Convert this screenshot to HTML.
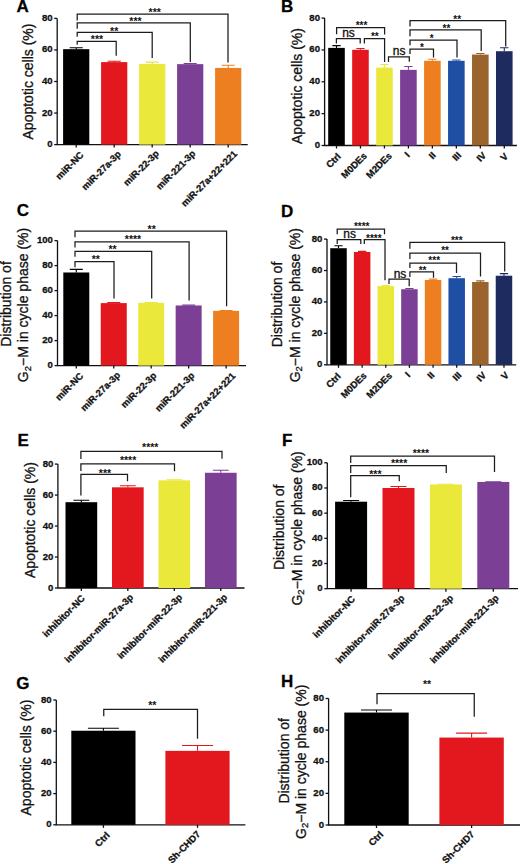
<!DOCTYPE html>
<html><head><meta charset="utf-8"><title>Figure</title>
<style>
html,body{margin:0;padding:0;background:#fff;}
body{width:520px;height:864px;overflow:hidden;}
svg{display:block;}
text{font-family:"Liberation Sans",sans-serif;fill:#111;stroke:#111;stroke-width:0.3px;}
.pl{font-size:17px;font-weight:bold;fill:#000;}
.tk{font-size:9.6px;font-weight:bold;}
.xl{font-size:9.5px;font-weight:bold;}
.yt{font-size:14px;}
.st{font-weight:bold;stroke:none;}
.ns{font-size:12px;}
.ax{stroke:#111;stroke-width:1.3;fill:none;}
.br{stroke:#1c1c1c;stroke-width:1.25;fill:none;}
</style></head>
<body><svg width="520" height="864" viewBox="0 0 520 864">
<rect width="520" height="864" fill="#fff"/>
<text x="16.4" y="12.1" class="pl">A</text>
<path d="M57.2 18.4V144.6H247.7" class="ax"/>
<path d="M54.2 144.6H57.2" class="ax"/>
<text x="52.6" y="147.1" class="tk" text-anchor="end">0</text>
<path d="M54.2 113.05H57.2" class="ax"/>
<text x="52.6" y="115.55" class="tk" text-anchor="end">20</text>
<path d="M54.2 81.5H57.2" class="ax"/>
<text x="52.6" y="84" class="tk" text-anchor="end">40</text>
<path d="M54.2 49.95H57.2" class="ax"/>
<text x="52.6" y="52.45" class="tk" text-anchor="end">60</text>
<path d="M54.2 18.4H57.2" class="ax"/>
<text x="52.6" y="20.9" class="tk" text-anchor="end">80</text>
<text transform="translate(33.2 81.5) rotate(-90)" class="yt" style="font-size:14px" text-anchor="middle">Apoptotic cells (%)</text>
<rect x="63.1" y="49.16" width="26.2" height="95.44" fill="#000000"/>
<path d="M76.2 49.16V47.74M69.65 47.74H82.75" stroke="#000000" stroke-width="1.1" fill="none"/>
<path d="M76.2 144.6V147.6" class="ax"/>
<text transform="translate(84.2 155.6) rotate(-45)" class="xl" text-anchor="end">miR-NC</text>
<rect x="101.1" y="62.1" width="26.2" height="82.5" fill="#e3181e"/>
<path d="M114.2 62.1V61.31M107.65 61.31H120.75" stroke="#e3181e" stroke-width="1.1" fill="none"/>
<path d="M114.2 144.6V147.6" class="ax"/>
<text transform="translate(121.7 154.6) rotate(-45)" class="xl" text-anchor="end">miR-27a-3p</text>
<rect x="139.1" y="63.99" width="26.2" height="80.61" fill="#ebe83c"/>
<path d="M152.2 63.99V62.1M145.65 62.1H158.75" stroke="#ebe83c" stroke-width="1.1" fill="none"/>
<path d="M152.2 144.6V147.6" class="ax"/>
<text transform="translate(159.7 154.1) rotate(-45)" class="xl" text-anchor="end">miR-22-3p</text>
<rect x="177.1" y="64.15" width="26.2" height="80.45" fill="#7b3f95"/>
<path d="M190.2 64.15V63.52M183.65 63.52H196.75" stroke="#7b3f95" stroke-width="1.1" fill="none"/>
<path d="M190.2 144.6V147.6" class="ax"/>
<text transform="translate(196.2 154.1) rotate(-45)" class="xl" text-anchor="end">miR-221-3p</text>
<rect x="215.1" y="67.93" width="26.2" height="76.67" fill="#ee7f20"/>
<path d="M228.2 67.93V65.25M221.65 65.25H234.75" stroke="#ee7f20" stroke-width="1.1" fill="none"/>
<path d="M228.2 144.6V147.6" class="ax"/>
<text transform="translate(237.7 154.6) rotate(-45)" class="xl" text-anchor="end">miR-27a+22+221</text>
<path d="M77.2 20.4V14.1H228V62.5" class="br"/>
<text x="154.7" y="16.05" class="st" style="font-size:10.5px" text-anchor="middle">***</text>
<path d="M77.2 28.7V22.8H190.3V62" class="br"/>
<text x="135.5" y="24.6" class="st" style="font-size:10.5px" text-anchor="middle">***</text>
<path d="M77.2 36.7V32.3H152.2V58" class="br"/>
<text x="114.2" y="34.55" class="st" style="font-size:10.5px" text-anchor="middle">**</text>
<path d="M77.2 44.7V41.3H116.2V55.8" class="br"/>
<text x="97" y="43.15" class="st" style="font-size:10.5px" text-anchor="middle">***</text>
<text x="281" y="12.3" class="pl">B</text>
<path d="M324.6 18.1V145.5H516.9" class="ax"/>
<path d="M321.6 145.5H324.6" class="ax"/>
<text x="320" y="148" class="tk" text-anchor="end">0</text>
<path d="M321.6 113.65H324.6" class="ax"/>
<text x="320" y="116.15" class="tk" text-anchor="end">20</text>
<path d="M321.6 81.8H324.6" class="ax"/>
<text x="320" y="84.3" class="tk" text-anchor="end">40</text>
<path d="M321.6 49.95H324.6" class="ax"/>
<text x="320" y="52.45" class="tk" text-anchor="end">60</text>
<path d="M321.6 18.1H324.6" class="ax"/>
<text x="320" y="20.6" class="tk" text-anchor="end">80</text>
<text transform="translate(301.6 86) rotate(-90)" class="yt" style="font-size:14px" text-anchor="middle">Apoptotic cells (%)</text>
<rect x="328.2" y="47.88" width="16.6" height="97.62" fill="#000000"/>
<path d="M336.5 47.88V45.65M332.35 45.65H340.65" stroke="#000000" stroke-width="1.1" fill="none"/>
<path d="M336.5 145.5V148.5" class="ax"/>
<text transform="translate(341.5 157) rotate(-45)" class="xl" text-anchor="end">Ctrl</text>
<rect x="352.17" y="49.79" width="16.6" height="95.71" fill="#e3181e"/>
<path d="M360.47 49.79V48.52M356.32 48.52H364.62" stroke="#e3181e" stroke-width="1.1" fill="none"/>
<path d="M360.47 145.5V148.5" class="ax"/>
<text transform="translate(367.47 156.5) rotate(-45)" class="xl" text-anchor="end">M0DEs</text>
<rect x="376.14" y="67.63" width="16.6" height="77.87" fill="#ebe83c"/>
<path d="M384.44 67.63V64.44M380.29 64.44H388.59" stroke="#ebe83c" stroke-width="1.1" fill="none"/>
<path d="M384.44 145.5V148.5" class="ax"/>
<text transform="translate(392.44 156.5) rotate(-45)" class="xl" text-anchor="end">M2DEs</text>
<rect x="400.11" y="69.86" width="16.6" height="75.64" fill="#7b3f95"/>
<path d="M408.41 69.86V66.51M404.26 66.51H412.56" stroke="#7b3f95" stroke-width="1.1" fill="none"/>
<path d="M408.41 145.5V148.5" class="ax"/>
<text transform="translate(410.41 156) rotate(-45)" class="xl" text-anchor="end">I</text>
<rect x="424.08" y="60.78" width="16.6" height="84.72" fill="#ee7f20"/>
<path d="M432.38 60.78V59.19M428.23 59.19H436.53" stroke="#ee7f20" stroke-width="1.1" fill="none"/>
<path d="M432.38 145.5V148.5" class="ax"/>
<text transform="translate(436.38 156) rotate(-45)" class="xl" text-anchor="end">II</text>
<rect x="448.05" y="60.78" width="16.6" height="84.72" fill="#1f4fa3"/>
<path d="M456.35 60.78V59.98M452.2 59.98H460.5" stroke="#1f4fa3" stroke-width="1.1" fill="none"/>
<path d="M456.35 145.5V148.5" class="ax"/>
<text transform="translate(461.85 156) rotate(-45)" class="xl" text-anchor="end">III</text>
<rect x="472.02" y="54.57" width="16.6" height="90.93" fill="#9a642c"/>
<path d="M480.32 54.57V53.45M476.17 53.45H484.47" stroke="#9a642c" stroke-width="1.1" fill="none"/>
<path d="M480.32 145.5V148.5" class="ax"/>
<text transform="translate(486.82 156) rotate(-45)" class="xl" text-anchor="end">IV</text>
<rect x="495.99" y="51.22" width="16.6" height="94.28" fill="#1d2b5e"/>
<path d="M504.29 51.22V47.72M500.14 47.72H508.44" stroke="#1d2b5e" stroke-width="1.1" fill="none"/>
<path d="M504.29 145.5V148.5" class="ax"/>
<text transform="translate(508.79 157) rotate(-45)" class="xl" text-anchor="end">V</text>
<path d="M336.6 34.2V27.7H384.6V34.6" class="br"/>
<text x="361.5" y="29.05" class="st" style="font-size:10px" text-anchor="middle">***</text>
<path d="M336.4 43.5V38.7H360.2V43.5" class="br"/>
<text x="348.5" y="37.1" class="ns" text-anchor="middle">ns</text>
<path d="M364.4 43.5V38.7H384.6V62" class="br"/>
<text x="374.8" y="40.35" class="st" style="font-size:10px" text-anchor="middle">**</text>
<path d="M388.5 62V56.8H409.3V61.7" class="br"/>
<text x="399.2" y="55.2" class="ns" text-anchor="middle">ns</text>
<path d="M410 26.4V20.6H505.7V46.5" class="br"/>
<text x="457.2" y="23.1" class="st" style="font-size:10px" text-anchor="middle">**</text>
<path d="M410 36.3V29.9H481.2V51" class="br"/>
<text x="446.5" y="32.3" class="st" style="font-size:10px" text-anchor="middle">**</text>
<path d="M410 45.3V40.2H457V57.6" class="br"/>
<text x="431.8" y="42.15" class="st" style="font-size:10px" text-anchor="middle">*</text>
<path d="M410 53.9V49H433.5V57.6" class="br"/>
<text x="421.9" y="51.4" class="st" style="font-size:10px" text-anchor="middle">*</text>
<text x="16.8" y="216.2" class="pl">C</text>
<path d="M57.5 240.6V365.6H246" class="ax"/>
<path d="M54.5 365.6H57.5" class="ax"/>
<text x="52.9" y="368.1" class="tk" text-anchor="end">0</text>
<path d="M54.5 340.6H57.5" class="ax"/>
<text x="52.9" y="343.1" class="tk" text-anchor="end">20</text>
<path d="M54.5 315.6H57.5" class="ax"/>
<text x="52.9" y="318.1" class="tk" text-anchor="end">40</text>
<path d="M54.5 290.6H57.5" class="ax"/>
<text x="52.9" y="293.1" class="tk" text-anchor="end">60</text>
<path d="M54.5 265.6H57.5" class="ax"/>
<text x="52.9" y="268.1" class="tk" text-anchor="end">80</text>
<path d="M54.5 240.6H57.5" class="ax"/>
<text x="52.9" y="243.1" class="tk" text-anchor="end">100</text>
<text transform="translate(10.8 304) rotate(-90)" class="yt" style="font-size:14px" text-anchor="middle">Distribution of</text>
<text transform="translate(28.2 305) rotate(-90)" class="yt" style="font-size:14px" text-anchor="middle">G<tspan font-size="9.52px" dy="2.5">2</tspan><tspan dy="-2.5">−M in cycle phase (%)</tspan></text>
<rect x="63.3" y="272.48" width="26" height="93.12" fill="#000000"/>
<path d="M76.3 272.48V269.35M69.8 269.35H82.8" stroke="#000000" stroke-width="1.1" fill="none"/>
<path d="M76.3 365.6V368.6" class="ax"/>
<text transform="translate(83.8 376.6) rotate(-45)" class="xl" text-anchor="end">miR-NC</text>
<rect x="100.75" y="303.1" width="26" height="62.5" fill="#e3181e"/>
<path d="M113.75 303.1V302.6M107.25 302.6H120.25" stroke="#e3181e" stroke-width="1.1" fill="none"/>
<path d="M113.75 365.6V368.6" class="ax"/>
<text transform="translate(120.75 375.6) rotate(-45)" class="xl" text-anchor="end">miR-27a-3p</text>
<rect x="138.2" y="302.85" width="26" height="62.75" fill="#ebe83c"/>
<path d="M151.2 302.85V302.48M144.7 302.48H157.7" stroke="#ebe83c" stroke-width="1.1" fill="none"/>
<path d="M151.2 365.6V368.6" class="ax"/>
<text transform="translate(157.2 376.1) rotate(-45)" class="xl" text-anchor="end">miR-22-3p</text>
<rect x="175.65" y="305.48" width="26" height="60.12" fill="#7b3f95"/>
<path d="M188.65 305.48V305.1M182.15 305.1H195.15" stroke="#7b3f95" stroke-width="1.1" fill="none"/>
<path d="M188.65 365.6V368.6" class="ax"/>
<text transform="translate(195.15 376.1) rotate(-45)" class="xl" text-anchor="end">miR-221-3p</text>
<rect x="213.1" y="310.85" width="26" height="54.75" fill="#ee7f20"/>
<path d="M226.1 310.85V310.48M219.6 310.48H232.6" stroke="#ee7f20" stroke-width="1.1" fill="none"/>
<path d="M226.1 365.6V368.6" class="ax"/>
<text transform="translate(236.1 376.6) rotate(-45)" class="xl" text-anchor="end">miR-27a+22+221</text>
<path d="M75 237.2V231.1H226.6V306.3" class="br"/>
<text x="151.7" y="232.9" class="st" style="font-size:10.5px" text-anchor="middle">**</text>
<path d="M75 247.6V241.8H189.1V300.5" class="br"/>
<text x="133" y="243" class="st" style="font-size:10.5px" text-anchor="middle">****</text>
<path d="M75 256.8V251.3H151.7V298.5" class="br"/>
<text x="112.6" y="253" class="st" style="font-size:10.5px" text-anchor="middle">**</text>
<path d="M75 267.2V261.5H114V298.5" class="br"/>
<text x="95.8" y="263.3" class="st" style="font-size:10.5px" text-anchor="middle">**</text>
<text x="281" y="217" class="pl">D</text>
<path d="M327 239.1V364.8H516.2" class="ax"/>
<path d="M324 364.8H327" class="ax"/>
<text x="322.4" y="367.3" class="tk" text-anchor="end">0</text>
<path d="M324 333.38H327" class="ax"/>
<text x="322.4" y="335.88" class="tk" text-anchor="end">20</text>
<path d="M324 301.95H327" class="ax"/>
<text x="322.4" y="304.45" class="tk" text-anchor="end">40</text>
<path d="M324 270.52H327" class="ax"/>
<text x="322.4" y="273.02" class="tk" text-anchor="end">60</text>
<path d="M324 239.1H327" class="ax"/>
<text x="322.4" y="241.6" class="tk" text-anchor="end">80</text>
<text transform="translate(282.3 304.5) rotate(-90)" class="yt" style="font-size:14px" text-anchor="middle">Distribution of</text>
<text transform="translate(299.6 305.2) rotate(-90)" class="yt" style="font-size:14px" text-anchor="middle">G<tspan font-size="9.52px" dy="2.5">2</tspan><tspan dy="-2.5">−M in cycle phase (%)</tspan></text>
<rect x="330.25" y="248.21" width="16.5" height="116.59" fill="#000000"/>
<path d="M338.5 248.21V245.7M334.38 245.7H342.62" stroke="#000000" stroke-width="1.1" fill="none"/>
<path d="M338.5 364.8V367.8" class="ax"/>
<text transform="translate(341.5 376.8) rotate(-45)" class="xl" text-anchor="end">Ctrl</text>
<rect x="353.89" y="251.98" width="16.5" height="112.82" fill="#e3181e"/>
<path d="M362.14 251.98V251.36M358.01 251.36H366.26" stroke="#e3181e" stroke-width="1.1" fill="none"/>
<path d="M362.14 364.8V367.8" class="ax"/>
<text transform="translate(367.14 376.3) rotate(-45)" class="xl" text-anchor="end">M0DEs</text>
<rect x="377.53" y="286.08" width="16.5" height="78.72" fill="#ebe83c"/>
<path d="M385.78 286.08V285.45M381.65 285.45H389.9" stroke="#ebe83c" stroke-width="1.1" fill="none"/>
<path d="M385.78 364.8V367.8" class="ax"/>
<text transform="translate(392.78 376.3) rotate(-45)" class="xl" text-anchor="end">M2DEs</text>
<rect x="401.17" y="289.22" width="16.5" height="75.58" fill="#7b3f95"/>
<path d="M409.42 289.22V288.44M405.3 288.44H413.55" stroke="#7b3f95" stroke-width="1.1" fill="none"/>
<path d="M409.42 364.8V367.8" class="ax"/>
<text transform="translate(410.92 375.8) rotate(-45)" class="xl" text-anchor="end">I</text>
<rect x="424.81" y="279.95" width="16.5" height="84.85" fill="#ee7f20"/>
<path d="M433.06 279.95V279.17M428.94 279.17H437.19" stroke="#ee7f20" stroke-width="1.1" fill="none"/>
<path d="M433.06 364.8V367.8" class="ax"/>
<text transform="translate(435.06 375.8) rotate(-45)" class="xl" text-anchor="end">II</text>
<rect x="448.45" y="278.22" width="16.5" height="86.58" fill="#1f4fa3"/>
<path d="M456.7 278.22V276.5M452.57 276.5H460.82" stroke="#1f4fa3" stroke-width="1.1" fill="none"/>
<path d="M456.7 364.8V367.8" class="ax"/>
<text transform="translate(462.2 375.8) rotate(-45)" class="xl" text-anchor="end">III</text>
<rect x="472.09" y="282" width="16.5" height="82.8" fill="#9a642c"/>
<path d="M480.34 282V280.9M476.22 280.9H484.47" stroke="#9a642c" stroke-width="1.1" fill="none"/>
<path d="M480.34 364.8V367.8" class="ax"/>
<text transform="translate(486.84 375.8) rotate(-45)" class="xl" text-anchor="end">IV</text>
<rect x="495.73" y="275.71" width="16.5" height="89.09" fill="#1d2b5e"/>
<path d="M503.98 275.71V273.67M499.86 273.67H508.11" stroke="#1d2b5e" stroke-width="1.1" fill="none"/>
<path d="M503.98 364.8V367.8" class="ax"/>
<text transform="translate(509.48 375.8) rotate(-45)" class="xl" text-anchor="end">V</text>
<path d="M337.2 234.2V229H384.5V234.2" class="br"/>
<text x="361.7" y="230" class="st" style="font-size:10px" text-anchor="middle">****</text>
<path d="M337.2 244V239.7H360.8V244" class="br"/>
<text x="349.6" y="238.1" class="ns" text-anchor="middle">ns</text>
<path d="M364.3 244V239.7H385V280.3" class="br"/>
<text x="373.8" y="242.15" class="st" style="font-size:10px" text-anchor="middle">****</text>
<path d="M389 284V279.2H409.2V286.2" class="br"/>
<text x="400" y="277.6" class="ns" text-anchor="middle">ns</text>
<path d="M409.9 248.7V242.3H504.7V271.5" class="br"/>
<text x="456.8" y="243.9" class="st" style="font-size:10px" text-anchor="middle">***</text>
<path d="M409.9 258.9V253.1H480.5V276.5" class="br"/>
<text x="445.1" y="254.3" class="st" style="font-size:10px" text-anchor="middle">**</text>
<path d="M409.9 268.1V263H456.5V273" class="br"/>
<text x="434.2" y="264" class="st" style="font-size:10px" text-anchor="middle">***</text>
<path d="M409.9 277V271.8H433.5V277.7" class="br"/>
<text x="422.6" y="273.9" class="st" style="font-size:10px" text-anchor="middle">**</text>
<text x="17.6" y="446.3" class="pl">E</text>
<path d="M57.9 464.1V588H244.5" class="ax"/>
<path d="M54.9 588H57.9" class="ax"/>
<text x="53.3" y="590.5" class="tk" text-anchor="end">0</text>
<path d="M54.9 557.02H57.9" class="ax"/>
<text x="53.3" y="559.52" class="tk" text-anchor="end">20</text>
<path d="M54.9 526.05H57.9" class="ax"/>
<text x="53.3" y="528.55" class="tk" text-anchor="end">40</text>
<path d="M54.9 495.08H57.9" class="ax"/>
<text x="53.3" y="497.58" class="tk" text-anchor="end">60</text>
<path d="M54.9 464.1H57.9" class="ax"/>
<text x="53.3" y="466.6" class="tk" text-anchor="end">80</text>
<text transform="translate(34.6 520) rotate(-90)" class="yt" style="font-size:14px" text-anchor="middle">Apoptotic cells (%)</text>
<rect x="65.5" y="502.2" width="31.7" height="85.8" fill="#000000"/>
<path d="M81.35 502.2V500.19M73.42 500.19H89.27" stroke="#000000" stroke-width="1.1" fill="none"/>
<path d="M81.35 588V591" class="ax"/>
<text transform="translate(85.35 599) rotate(-45)" class="xl" text-anchor="end">inhibitor-NC</text>
<rect x="111.98" y="487.33" width="31.7" height="100.67" fill="#e3181e"/>
<path d="M127.83 487.33V485.78M119.9 485.78H135.75" stroke="#e3181e" stroke-width="1.1" fill="none"/>
<path d="M127.83 588V591" class="ax"/>
<text transform="translate(133.83 598) rotate(-45)" class="xl" text-anchor="end">inhibitor-miR-27a-3p</text>
<rect x="158.46" y="480.36" width="31.7" height="107.64" fill="#ebe83c"/>
<path d="M174.31 480.36V479.9M166.38 479.9H182.24" stroke="#ebe83c" stroke-width="1.1" fill="none"/>
<path d="M174.31 588V591" class="ax"/>
<text transform="translate(182.81 598) rotate(-45)" class="xl" text-anchor="end">inhibitor-miR-22-3p</text>
<rect x="204.94" y="472.77" width="31.7" height="115.23" fill="#7b3f95"/>
<path d="M220.79 472.77V470.3M212.86 470.3H228.72" stroke="#7b3f95" stroke-width="1.1" fill="none"/>
<path d="M220.79 588V591" class="ax"/>
<text transform="translate(227.79 598) rotate(-45)" class="xl" text-anchor="end">inhibitor-miR-221-3p</text>
<path d="M80.9 459V451.4H222V458.75" class="br"/>
<text x="150.3" y="450.85" class="st" style="font-size:10.5px" text-anchor="middle">****</text>
<path d="M80.9 471.1V463.8H174.5V471.25" class="br"/>
<text x="128.1" y="464.4" class="st" style="font-size:10.5px" text-anchor="middle">****</text>
<path d="M80.9 495.6V474.3H127.5V481.25" class="br"/>
<text x="105" y="476.9" class="st" style="font-size:10.5px" text-anchor="middle">***</text>
<text x="282" y="446.3" class="pl">F</text>
<path d="M327.3 462.8V588.7H518" class="ax"/>
<path d="M324.3 588.7H327.3" class="ax"/>
<text x="322.7" y="591.2" class="tk" text-anchor="end">0</text>
<path d="M324.3 563.52H327.3" class="ax"/>
<text x="322.7" y="566.02" class="tk" text-anchor="end">20</text>
<path d="M324.3 538.34H327.3" class="ax"/>
<text x="322.7" y="540.84" class="tk" text-anchor="end">40</text>
<path d="M324.3 513.16H327.3" class="ax"/>
<text x="322.7" y="515.66" class="tk" text-anchor="end">60</text>
<path d="M324.3 487.98H327.3" class="ax"/>
<text x="322.7" y="490.48" class="tk" text-anchor="end">80</text>
<path d="M324.3 462.8H327.3" class="ax"/>
<text x="322.7" y="465.3" class="tk" text-anchor="end">100</text>
<text transform="translate(284.2 527.3) rotate(-90)" class="yt" style="font-size:14px" text-anchor="middle">Distribution of</text>
<text transform="translate(301.9 528.4) rotate(-90)" class="yt" style="font-size:14px" text-anchor="middle">G<tspan font-size="9.52px" dy="2.5">2</tspan><tspan dy="-2.5">−M in cycle phase (%)</tspan></text>
<rect x="335.1" y="501.7" width="32" height="87" fill="#000000"/>
<path d="M351.1 501.7V500.57M343.1 500.57H359.1" stroke="#000000" stroke-width="1.1" fill="none"/>
<path d="M351.1 588.7V591.7" class="ax"/>
<text transform="translate(355.6 599.7) rotate(-45)" class="xl" text-anchor="end">inhibitor-NC</text>
<rect x="382.5" y="487.98" width="32" height="100.72" fill="#e3181e"/>
<path d="M398.5 487.98V486.47M390.5 486.47H406.5" stroke="#e3181e" stroke-width="1.1" fill="none"/>
<path d="M398.5 588.7V591.7" class="ax"/>
<text transform="translate(405 598.7) rotate(-45)" class="xl" text-anchor="end">inhibitor-miR-27a-3p</text>
<rect x="429.9" y="484.45" width="32" height="104.25" fill="#ebe83c"/>
<path d="M445.9 484.45V484.2M437.9 484.2H453.9" stroke="#ebe83c" stroke-width="1.1" fill="none"/>
<path d="M445.9 588.7V591.7" class="ax"/>
<text transform="translate(453.9 598.7) rotate(-45)" class="xl" text-anchor="end">inhibitor-miR-22-3p</text>
<rect x="477.3" y="481.94" width="32" height="106.76" fill="#7b3f95"/>
<path d="M493.3 481.94V481.69M485.3 481.69H501.3" stroke="#7b3f95" stroke-width="1.1" fill="none"/>
<path d="M493.3 588.7V591.7" class="ax"/>
<text transform="translate(499.3 598.7) rotate(-45)" class="xl" text-anchor="end">inhibitor-miR-221-3p</text>
<path d="M350.7 463V456H494.5V472" class="br"/>
<text x="420.9" y="457.25" class="st" style="font-size:10.5px" text-anchor="middle">****</text>
<path d="M350.7 473.1V465.5H446.25V473" class="br"/>
<text x="399.1" y="466.9" class="st" style="font-size:10.5px" text-anchor="middle">****</text>
<path d="M350.7 497.3V475.5H399.25V481.25" class="br"/>
<text x="375.4" y="478" class="st" style="font-size:10.5px" text-anchor="middle">***</text>
<text x="16.2" y="688.8" class="pl">G</text>
<path d="M56.3 700V824.8H245.4" class="ax"/>
<path d="M53.3 824.8H56.3" class="ax"/>
<text x="51.7" y="827.3" class="tk" text-anchor="end">0</text>
<path d="M53.3 793.6H56.3" class="ax"/>
<text x="51.7" y="796.1" class="tk" text-anchor="end">20</text>
<path d="M53.3 762.4H56.3" class="ax"/>
<text x="51.7" y="764.9" class="tk" text-anchor="end">40</text>
<path d="M53.3 731.2H56.3" class="ax"/>
<text x="51.7" y="733.7" class="tk" text-anchor="end">60</text>
<path d="M53.3 700H56.3" class="ax"/>
<text x="51.7" y="702.5" class="tk" text-anchor="end">80</text>
<text transform="translate(31 757.5) rotate(-90)" class="yt" style="font-size:14px" text-anchor="middle">Apoptotic cells (%)</text>
<rect x="71.3" y="730.73" width="64.2" height="94.07" fill="#000000"/>
<path d="M103.4 730.73V728.24M87.9 728.24H118.9" stroke="#000000" stroke-width="1.1" fill="none"/>
<path d="M103.4 824.8V827.8" class="ax"/>
<text transform="translate(110.4 835.8) rotate(-45)" class="xl" text-anchor="end">Ctrl</text>
<rect x="165.4" y="750.86" width="64.2" height="73.94" fill="#e3181e"/>
<path d="M197.5 750.86V745.55M182 745.55H213" stroke="#e3181e" stroke-width="1.1" fill="none"/>
<path d="M197.5 824.8V827.8" class="ax"/>
<text transform="translate(201 834.8) rotate(-45)" class="xl" text-anchor="end">Sh-CHD7</text>
<path d="M103.75 716.25V709.3H197.5V738.75" class="br"/>
<text x="152.3" y="709.05" class="st" style="font-size:10.5px" text-anchor="middle">**</text>
<text x="281" y="686.5" class="pl">H</text>
<path d="M328.6 698.5V825H520.5" class="ax"/>
<path d="M325.6 825H328.6" class="ax"/>
<text x="324" y="827.5" class="tk" text-anchor="end">0</text>
<path d="M325.6 793.38H328.6" class="ax"/>
<text x="324" y="795.88" class="tk" text-anchor="end">20</text>
<path d="M325.6 761.75H328.6" class="ax"/>
<text x="324" y="764.25" class="tk" text-anchor="end">40</text>
<path d="M325.6 730.12H328.6" class="ax"/>
<text x="324" y="732.62" class="tk" text-anchor="end">60</text>
<path d="M325.6 698.5H328.6" class="ax"/>
<text x="324" y="701" class="tk" text-anchor="end">80</text>
<text transform="translate(288.8 760.8) rotate(-90)" class="yt" style="font-size:14px" text-anchor="middle">Distribution of</text>
<text transform="translate(305.8 761.8) rotate(-90)" class="yt" style="font-size:14px" text-anchor="middle">G<tspan font-size="9.52px" dy="2.5">2</tspan><tspan dy="-2.5">−M in cycle phase (%)</tspan></text>
<rect x="344.3" y="712.57" width="64.4" height="112.43" fill="#000000"/>
<path d="M376.5 712.57V710.04M361 710.04H392" stroke="#000000" stroke-width="1.1" fill="none"/>
<path d="M376.5 825V828" class="ax"/>
<text transform="translate(384 835) rotate(-45)" class="xl" text-anchor="end">Ctrl</text>
<rect x="439.4" y="737.56" width="64.4" height="87.44" fill="#e3181e"/>
<path d="M471.6 737.56V733.13M456.1 733.13H487.1" stroke="#e3181e" stroke-width="1.1" fill="none"/>
<path d="M471.6 825V828" class="ax"/>
<text transform="translate(475.1 835) rotate(-45)" class="xl" text-anchor="end">Sh-CHD7</text>
<path d="M377 704.25V693.7H474.25V716.75" class="br"/>
<text x="427" y="687.5" class="st" style="font-size:10.5px" text-anchor="middle">**</text>
</svg></body></html>
